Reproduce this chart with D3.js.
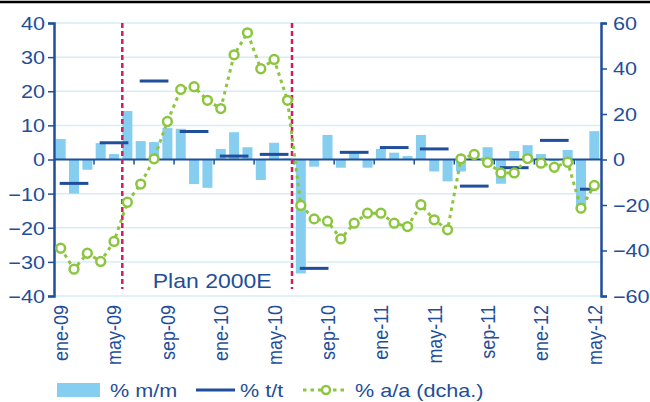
<!DOCTYPE html>
<html><head><meta charset="utf-8">
<script src="https://cdn.jsdelivr.net/npm/d3@7"></script>
<style>
html,body{margin:0;padding:0;background:#fff;}
svg{display:block;font-family:"Liberation Sans",Arial,sans-serif;}
</style></head>
<body>
<svg id="chart" width="650" height="402"></svg>
<script>
// ---- data ----
const months = ["ene-09","feb-09","mar-09","abr-09","may-09","jun-09","jul-09","ago-09","sep-09","oct-09","nov-09","dic-09",
"ene-10","feb-10","mar-10","abr-10","may-10","jun-10","jul-10","ago-10","sep-10","oct-10","nov-10","dic-10",
"ene-11","feb-11","mar-11","abr-11","may-11","jun-11","jul-11","ago-11","sep-11","oct-11","nov-11","dic-11",
"ene-12","feb-12","mar-12","abr-12","may-12"];
const mm = [6.0,-10.0,-3.0,4.8,1.6,14.2,5.4,5.1,9.2,9.0,-7.2,-8.3,
3.1,8.0,3.6,-6.0,4.9,0.3,-33.4,-2.1,7.2,-2.4,2.0,-2.4,
3.1,2.0,1.0,7.2,-3.5,-6.4,-3.5,0.5,3.6,-7.1,2.5,4.2,
1.6,-0.5,2.8,-14.8,8.3];
const tt = [-7.0,4.9,23.0,8.2,1.0,1.5,-31.9,2.1,3.5,3.1,-7.8,-2.4,5.6,-8.7];
const aa = [-39,-48.2,-41.2,-44.8,-36,-18.8,-10.8,0.3,16.7,30.8,32,26,
22.4,46,55.7,39.9,44,26,-20.2,-26.1,-27.1,-34.9,-28,-23.6,
-23.6,-28,-29.5,-19.9,-26.5,-30.9,0.3,2.2,-1.3,-5.9,-5.9,0.4,
-1.6,-3.4,-1.2,-21.4,-11.4];
const leftTicks = [-40,-30,-20,-10,0,10,20,30,40];
const rightTicks = [-60,-40,-20,0,20,40,60];
const labelEvery = 4;
const planMarks = [4.62, 17.34]; // month-index position of Plan 2000E start / end
const planLabel = "Plan 2000E";
const legendLabels = ["% m/m","% t/t","% a/a (dcha.)"];

// ---- style ----
const C_TEXT = "#1F4E9A", C_BAR = "#85CEF0", C_TT = "#1F4E9A", C_AA = "#8CC63F",
      C_GRID = "#D6ECF8", C_PLAN = "#D61B5C";
const svg = d3.select("#chart");
const L = 54, R = 601, T = 23, B = 296;
const xb = d3.scaleBand().domain(d3.range(months.length)).range([L, R]).paddingInner(0.25).paddingOuter(0.125);
const xc = i => xb(i) + xb.bandwidth()/2;
const xlin = d3.scaleLinear().domain([0, months.length-1]).range([xc(0), xc(months.length-1)]);
const yL = d3.scaleLinear().domain([-40,40]).range([B,T]);
const yR = d3.scaleLinear().domain([-60,60]).range([B,T]);

// top rule
svg.append("line").attr("x1",0).attr("x2",650).attr("y1",2).attr("y2",2).attr("stroke","#000").attr("stroke-width",2.5);

// grid
svg.append("g").selectAll("line").data(leftTicks.filter(d=>d!==0)).join("line")
  .attr("x1",L).attr("x2",R).attr("y1",d=>yL(d)).attr("y2",d=>yL(d))
  .attr("stroke",C_GRID).attr("stroke-width",1.5);

// bars
svg.append("g").selectAll("rect").data(mm).join("rect")
  .attr("x",(d,i)=>xb(i)).attr("width",xb.bandwidth())
  .attr("y",d=>yL(Math.max(0,d))).attr("height",d=>Math.abs(yL(d)-yL(0)))
  .attr("fill",C_BAR);

// zero axis with quarterly ticks
svg.append("line").attr("x1",L).attr("x2",R).attr("y1",yL(0)).attr("y2",yL(0)).attr("stroke",C_TEXT).attr("stroke-width",2);
const qb = d3.range(3, months.length, 3);
svg.append("g").selectAll("line").data(qb).join("line")
  .attr("x1",d=>xlin(d-0.5)).attr("x2",d=>xlin(d-0.5)).attr("y1",yL(0)).attr("y2",yL(0)+5)
  .attr("stroke",C_TEXT).attr("stroke-width",1.5);

// left axis
const gl = svg.append("g").attr("transform",`translate(${L},0)`)
  .call(d3.axisLeft(yL).tickValues(leftTicks).tickSize(6).tickFormat(d3.format("d")));
gl.select(".domain").attr("stroke",C_TEXT).attr("stroke-width",2.5);
gl.selectAll(".tick line").attr("stroke",C_TEXT).attr("stroke-width",1.5);
gl.selectAll(".tick text").attr("fill",C_TEXT).attr("font-size",18).attr("font-family","Liberation Sans, Arial, sans-serif")
  .attr("x",0).attr("dy","0.36em").attr("transform","translate(-9,0) scale(1.2,1)");

// right axis
const gr = svg.append("g").attr("transform",`translate(${R},0)`)
  .call(d3.axisRight(yR).tickValues(rightTicks).tickSize(6).tickFormat(d3.format("d")));
gr.select(".domain").attr("stroke",C_TEXT).attr("stroke-width",2.5);
gr.selectAll(".tick line").attr("stroke",C_TEXT).attr("stroke-width",1.5);
gr.selectAll(".tick text").attr("fill",C_TEXT).attr("font-size",18).attr("font-family","Liberation Sans, Arial, sans-serif")
  .attr("x",0).attr("dy","0.36em").attr("transform","translate(12,0) scale(1.2,1)");

// x labels
svg.append("g").selectAll("text").data(months.map((m,i)=>({m,i})).filter(d=>d.i%labelEvery===0)).join("text")
  .attr("transform",d=>`translate(${xc(d.i)},${B+9}) rotate(-90) scale(1,1.15)`)
  .attr("text-anchor","end").attr("dy","0.36em")
  .attr("fill",C_TEXT).attr("font-size",18).text(d=>d.m);

// plan lines
svg.append("g").selectAll("line").data(planMarks).join("line")
  .attr("x1",d=>xlin(d)).attr("x2",d=>xlin(d)).attr("y1",T).attr("y2",289)
  .attr("stroke",C_PLAN).attr("stroke-width",2.5).attr("stroke-dasharray","5,3");
svg.append("text").attr("transform",`translate(${(xlin(planMarks[0])+xlin(planMarks[1]))/2+5},288) scale(1.15,1)`)
  .attr("text-anchor","middle").attr("fill",C_TEXT).attr("font-size",20).text(planLabel);

// t/t dashes
svg.append("g").selectAll("line").data(tt).join("line")
  .attr("x1",(d,q)=>xc(3*q)-1).attr("x2",(d,q)=>xc(Math.min(3*q+2, months.length-1))+1)
  .attr("y1",d=>yL(d)).attr("y2",d=>yL(d))
  .attr("stroke",C_TT).attr("stroke-width",3);

// a/a line
const line = d3.line().x((d,i)=>xc(i)).y(d=>yR(d));
svg.append("path").datum(aa).attr("d",line).attr("fill","none")
  .attr("stroke",C_AA).attr("stroke-width",3).attr("stroke-dasharray","3.5,4");
svg.append("g").selectAll("circle").data(aa).join("circle")
  .attr("cx",(d,i)=>xc(i)).attr("cy",d=>yR(d)).attr("r",4.4)
  .attr("fill","#fff").attr("stroke",C_AA).attr("stroke-width",2.5);

// legend
const lg = svg.append("g");
const ly = 390;
lg.append("rect").attr("x",57).attr("y",ly-7).attr("width",43).attr("height",14).attr("fill",C_BAR);
lg.append("line").attr("x1",196).attr("x2",235).attr("y1",ly).attr("y2",ly).attr("stroke",C_TT).attr("stroke-width",3);
lg.append("line").attr("x1",303).attr("x2",347).attr("y1",ly).attr("y2",ly).attr("stroke",C_AA).attr("stroke-width",3).attr("stroke-dasharray","3.5,4");
lg.append("circle").attr("cx",326).attr("cy",ly).attr("r",4).attr("fill","#fff").attr("stroke",C_AA).attr("stroke-width",2.4);
const lx = [110, 240, 355];
lg.selectAll("text.lt").data(legendLabels).join("text").attr("class","lt")
  .attr("transform",(d,i)=>`translate(${lx[i]},${ly+6.5}) scale(1.2,1)`)
  .attr("fill",C_TEXT).attr("font-size",18).text(d=>d);
</script>
</body></html>
